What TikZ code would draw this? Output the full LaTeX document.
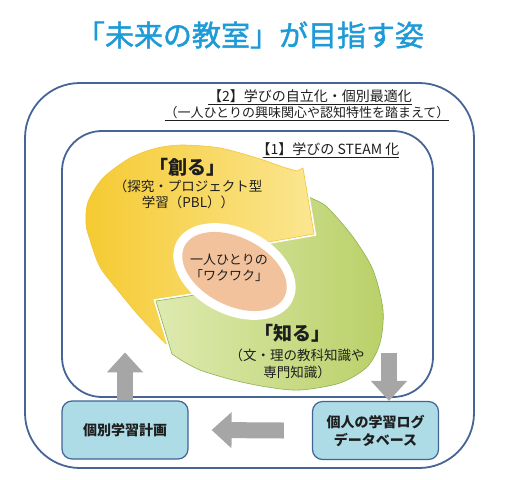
\documentclass[tikz,border=0pt]{standalone}
\usepackage{fontspec}
\setmainfont{Noto Sans CJK JP}
\newfontfamily\titlefont[RawFeature={embolden=1.5}]{Noto Sans CJK JP}
\usetikzlibrary{shapes.geometric,arrows.meta}
\definecolor{titleblue}{RGB}{30,155,215}
\definecolor{framec}{RGB}{70,100,150}
\definecolor{boxfill}{RGB}{173,220,230}
\definecolor{boxline}{RGB}{65,100,150}
\definecolor{arrowgray}{RGB}{166,166,166}
\definecolor{yelL}{RGB}{245,202,50}
\definecolor{yelR}{RGB}{251,230,145}
\definecolor{yelLine}{RGB}{242,198,60}
\definecolor{grnL}{RGB}{222,234,176}
\definecolor{grnR}{RGB}{186,208,104}
\definecolor{grnLine}{RGB}{140,178,80}
\definecolor{peach}{RGB}{242,194,156}
\definecolor{txt}{RGB}{30,30,30}
\newcommand\yelpath{plot[smooth] coordinates {(166,344) (140,317) (120,293) (100,267) (90,240) (86,224) (88,202) (103,178) (130,158) (157,148) (183,145) (220,148) (257,158) (283,167) (297,171)} -- (303,168) -- (314,234) -- (257,244) -- plot[smooth] coordinates {(245,238) (215,244) (196,262) (194,288) (204,302)} -- (186,330) -- cycle}
\newcommand\grnpath{plot[smooth] coordinates {(303,193) (311,198) (327,207) (353,237) (373,270) (383,310) (380,343) (367,367) (340,383) (300,390) (267,387) (233,380) (200,370) (181,360)} -- (172,354) -- (156,301) -- (214,292) -- plot[smooth] coordinates {(240,305) (272,292) (281,262) (262,252)} -- (285,222) -- cycle}
\begin{document}
\begin{tikzpicture}[x=1pt,y=-1pt,
  frame/.style={draw=framec, line width=1.8pt, inner sep=0pt, outer sep=0pt},
  infobox/.style={draw=boxline, line width=1.2pt, fill=boxfill, rounded corners=10pt,
    minimum width=126pt, minimum height=58pt, inner sep=0pt, align=center, text=txt,
    font=\bfseries\fontsize{14}{18}\selectfont},
  blk/.style={draw=arrowgray, line width=16pt, -{Triangle[width=35pt,length=20pt]}},
  yelstyle/.style={preaction={draw=white,line width=4pt}, left color=yelL, right color=yelR, draw=yelLine, line width=0.6pt},
  grnstyle/.style={preaction={draw=white,line width=4pt}, left color=grnL, right color=grnR, draw=grnLine, line width=0.6pt},
  lbl/.style={text=txt, inner sep=0pt, align=center}]
\useasboundingbox (0,0) rectangle (513,479);
% title
\node[text=titleblue, font=\titlefont\fontsize{29}{34}\selectfont] (title) at (250,35) {「未来の教室」が目指す姿};
% frames
\node[frame, rounded corners=55pt, minimum width=449pt, minimum height=385pt] (outerF) at (249.5,275.5) {};
\node[frame, rounded corners=40pt, minimum width=371pt, minimum height=266pt] (innerF) at (247.5,264) {};
\node[lbl, font=\fontsize{14}{16}\selectfont] (l2) at (310,97) {\underline{【2】学びの自立化・個別最適化}};
\node[lbl, font=\fontsize{13}{15}\selectfont] (l2b) at (307,114) {\underline{（一人ひとりの興味関心や認知特性を踏まえて）}};
\node[lbl, font=\fontsize{14}{16}\selectfont] (l1) at (328,150) {\underline{【1】学びの STEAM 化}};
% circular arrows
\path[yelstyle] \yelpath;
\path[grnstyle] \grnpath;
\begin{scope}
\clip (230,95) rectangle (345,262);
\path[yelstyle] \yelpath;
\end{scope}
\node[ellipse, fill=white, minimum width=130pt, minimum height=86pt, inner sep=0pt, rotate=-27] (ring) at (234.5,271.5) {};
\node[ellipse, fill=peach, minimum width=112pt, minimum height=68pt, inner sep=0pt, rotate=-27] (core) at (234.5,271.5) {};
\node[lbl, font=\fontsize{13}{16}\selectfont] (waku) at (229,268) {一人ひとりの\\「ワクワク」};
\node[lbl, font=\bfseries\fontsize{19}{22}\selectfont] (sozo) at (187,167) {「創る」};
\node[lbl, font=\fontsize{13.5}{16}\selectfont] (sozosub) at (188,194) {（探究・プロジェクト型\\学習（PBL））};
\node[lbl, font=\bfseries\fontsize{19}{22}\selectfont] (shiru) at (292,333) {「知る」};
\node[lbl, font=\fontsize{13.5}{17}\selectfont] (shirusub) at (297,363.5) {（文・理の教科知識や\\専門知識）};
% boxes
\node[infobox] (plan) at (125,430) {個別学習計画};
\node[infobox] (log) at (375.5,430.5) {個人の学習ログ\\データベース};
% gray block arrows
\draw[blk] (plan.north) -- ++(0,-48);
\draw[blk] ([xshift=13.5pt,yshift=48pt]log.north) -- ([xshift=13.5pt]log.north);
\draw[blk] ([xshift=-28pt]log.west) -- ([xshift=23pt]plan.east);
\end{tikzpicture}
\end{document}
